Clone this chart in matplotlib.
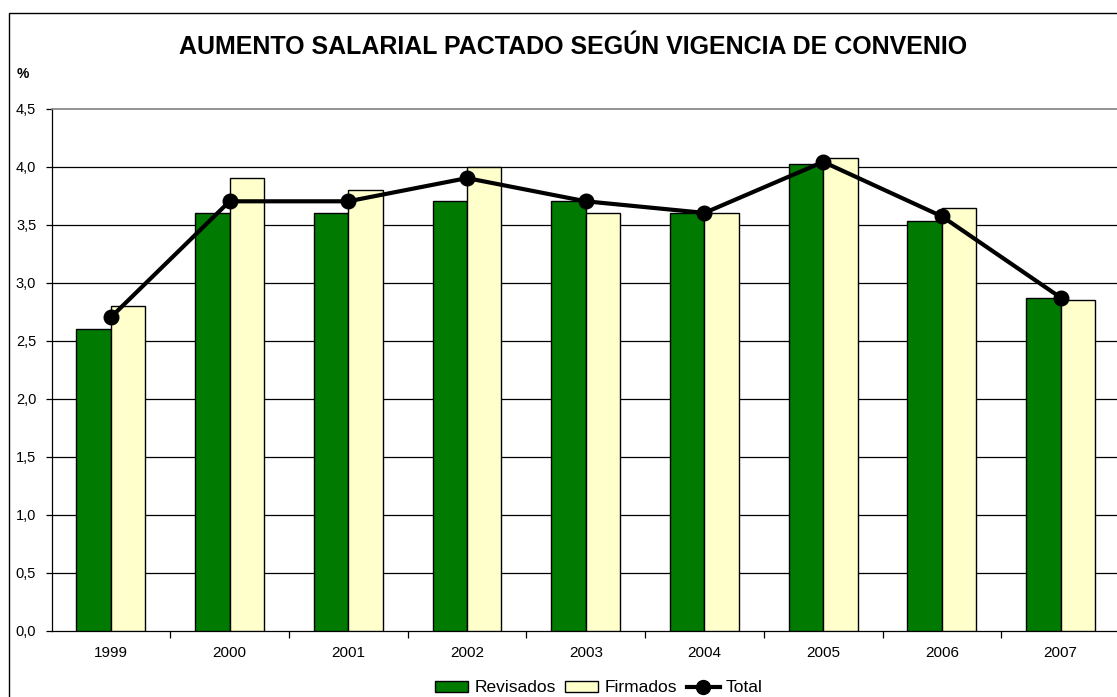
import numpy as np
import matplotlib
matplotlib.use("Agg")
import matplotlib.pyplot as plt
from matplotlib.patches import Rectangle
from matplotlib.lines import Line2D
from matplotlib.patches import Patch

plt.rcParams['font.family'] = ['Liberation Sans', 'DejaVu Sans']

# data
years = ['1999', '2000', '2001', '2002', '2003', '2004', '2005', '2006', '2007']
revisados = [2.6, 3.6, 3.6, 3.7, 3.7, 3.6, 4.02, 3.53, 2.87]
firmados = [2.8, 3.9, 3.8, 4.0, 3.6, 3.6, 4.07, 3.64, 2.85]
total = [2.7, 3.7, 3.7, 3.9, 3.7, 3.6, 4.04, 3.57, 2.87]
yticks = [0.0, 0.5, 1.0, 1.5, 2.0, 2.5, 3.0, 3.5, 4.0, 4.5]

W, H = 1117, 697
fig = plt.figure(figsize=(W / 100, H / 100), dpi=100)
fig.patch.set_facecolor('white')

# outer chart border (cropped on right/bottom)
fig.add_artist(Rectangle((9.5 / W, -0.05), 1.2, (H - 12.5) / H + 0.05,
                         transform=fig.transFigure, fill=False,
                         edgecolor='black', lw=1.0, clip_on=False))

left, right, top, bottom = 51.5, 1120, 108.5, 630.5
ax = fig.add_axes([left / W, 1 - bottom / H, (right - left) / W, (bottom - top) / H])

x = np.arange(len(years))
bw = 0.29
ax.bar(x - bw / 2, revisados, bw, color='#007A00', edgecolor='black', lw=1.0, zorder=3)
ax.bar(x + bw / 2, firmados, bw, color='#FFFFCC', edgecolor='black', lw=1.0, zorder=3)
ax.plot(x, total, color='black', lw=3.0, marker='o', ms=10.5, zorder=4)

ax.set_xlim(-0.5, 8.5)
ax.set_ylim(0, 4.5)
ax.set_yticks(yticks)
ax.set_yticklabels([f'{v:.1f}'.replace('.', ',') for v in yticks], fontsize=10.5)
for v in yticks[1:-1]:
    ax.axhline(v, color='black', lw=0.9, zorder=1)

ax.set_xticks(x)
ax.set_xticklabels(years, fontsize=11)
ax.set_xticks(np.arange(0.5, 8.5, 1.0), minor=True)
ax.tick_params(axis='x', which='major', length=0, pad=11)
ax.tick_params(axis='x', which='minor', length=5, width=0.9, direction='out')
ax.tick_params(axis='y', length=4, width=0.9, direction='out', pad=7)

ax.spines['right'].set_visible(False)
ax.spines['top'].set_color('#808080')
ax.spines['top'].set_linewidth(1.2)
ax.spines['left'].set_linewidth(0.9)
ax.spines['bottom'].set_linewidth(0.9)

fig.text(573 / W, 1 - 47 / H, 'AUMENTO SALARIAL PACTADO SEGÚN VIGENCIA DE CONVENIO',
         ha='center', va='center', fontsize=18, fontweight='bold')
fig.text(17 / W, 1 - 74 / H, '%', ha='left', va='center', fontsize=10, fontweight='bold')

handles = [Patch(facecolor='#007A00', edgecolor='black', lw=1.0),
           Patch(facecolor='#FFFFCC', edgecolor='black', lw=1.0),
           Line2D([], [], color='black', lw=3.0, marker='o', ms=10)]
fig.legend(handles, ['Revisados', 'Firmados', 'Total'], loc='center',
           bbox_to_anchor=(599 / W, 1 - 688 / H), ncol=3, frameon=False,
           fontsize=12.5, handlelength=1.9, handleheight=0.63, handletextpad=0.35,
           columnspacing=0.57, borderpad=0)

fig.savefig('out.png', dpi=100)
